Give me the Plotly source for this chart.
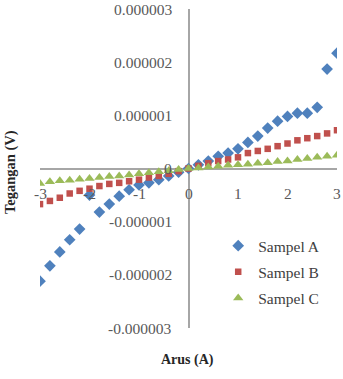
import plotly.graph_objects as go

# Data: Arus (A) vs Tegangan (V), values in units of 1e-6 V
arus = [round(-3 + 0.2 * i, 1) for i in range(31)]
sampel_a = [-2.12, -1.83, -1.57, -1.34, -1.14, -0.50, -0.82, -0.67, -0.52, -0.40,
            -0.31, -0.27, -0.21, -0.14, -0.07, 0.0, 0.07, 0.14, 0.23, 0.29,
            0.37, 0.49, 0.61, 0.76, 0.89, 0.98, 1.04, 1.04, 1.15, 1.87, 2.17]
sampel_b = [-0.67, -0.61, -0.55, -0.47, -0.42, -0.38, -0.33, -0.29, -0.27, -0.24,
            -0.21, -0.17, -0.14, -0.10, -0.05, 0.0, 0.05, 0.10, 0.14, 0.17,
            0.21, 0.29, 0.33, 0.37, 0.42, 0.47, 0.53, 0.57, 0.61, 0.66, 0.72]
sampel_c = [-0.28, -0.25, -0.23, -0.22, -0.20, -0.19, -0.17, -0.15, -0.14, -0.12,
            -0.10, -0.08, -0.06, -0.04, -0.02, 0.0, 0.01, 0.03, 0.04, 0.06,
            0.07, 0.08, 0.10, 0.11, 0.13, 0.14, 0.17, 0.19, 0.21, 0.23, 0.25]
scale = 1e-6

x_ticks = [-3, -2, -1, 0, 1, 2, 3]
x_tick_labels = ["-3", "-2", "-1", "0", "1", "2", "3"]
y_ticks = [3e-6, 2e-6, 1e-6, 0, -1e-6, -2e-6, -3e-6]
y_tick_labels = ["0.000003", "0.000002", "0.000001", "0", "-0.000001", "-0.000002", "-0.000003"]

series_names = ["Sampel A", "Sampel B", "Sampel C"]
series_colors = ["#4F81BD", "#C0504D", "#9BBB59"]

FONT = "Times New Roman"

fig = go.Figure()
series = [sampel_a, sampel_b, sampel_c]
symbols = ["diamond", "square", "triangle-up"]
sizes = [9, 6.5, 9]
for i, (name, vals) in enumerate(zip(series_names, series)):
    fig.add_trace(go.Scatter(
        x=arus, y=[v * scale for v in vals], mode="markers", name=name,
        legendgroup=name,
        marker=dict(symbol=symbols[i], size=sizes[i], color=series_colors[i]),
    ))

annotations = []
for xv, t in zip(x_ticks, x_tick_labels):
    annotations.append(dict(x=xv, y=0, xref="x", yref="y", text=t, showarrow=False,
                            xanchor="center", yanchor="middle", yshift=-25,
                            font=dict(family=FONT, size=15.5, color="#595959")))
for yv, t in zip(y_ticks, y_tick_labels):
    annotations.append(dict(x=0, y=yv, xref="x", yref="y", text=t, showarrow=False,
                            xanchor="right", yanchor="middle", xshift=-15,
                            font=dict(family=FONT, size=15.5, color="#595959")))
annotations.append(dict(x=0.495, y=-0.1, xref="paper", yref="paper", text="<b>Arus (A)</b>",
                        showarrow=False, xanchor="center", yanchor="middle",
                        font=dict(family=FONT, size=14, color="#262626")))
annotations.append(dict(x=-0.1, y=0.49, xref="paper", yref="paper", text="<b>Tegangan (V)</b>",
                        showarrow=False, textangle=-90, xanchor="center", yanchor="middle",
                        font=dict(family=FONT, size=14.5, color="#262626")))

fig.update_layout(
    width=343, height=379,
    margin=dict(l=40, r=6, t=9, b=51),
    paper_bgcolor="white", plot_bgcolor="white",
    showlegend=True,
    legend=dict(x=0.6, y=0.31, xanchor="left", yanchor="top",
                font=dict(family=FONT, size=15.5, color="#404040"),
                tracegroupgap=3, bgcolor="rgba(0,0,0,0)"),
    annotations=annotations,
    xaxis=dict(range=[-3, 3], showgrid=False, showticklabels=False, ticks="",
               zeroline=True, zerolinecolor="#A6A6A6", zerolinewidth=1.5, showline=False),
    yaxis=dict(range=[-3e-6, 3e-6], showgrid=False, showticklabels=False, ticks="",
               zeroline=True, zerolinecolor="#A6A6A6", zerolinewidth=1.5, showline=False),
)

fig.write_html("out.html")
